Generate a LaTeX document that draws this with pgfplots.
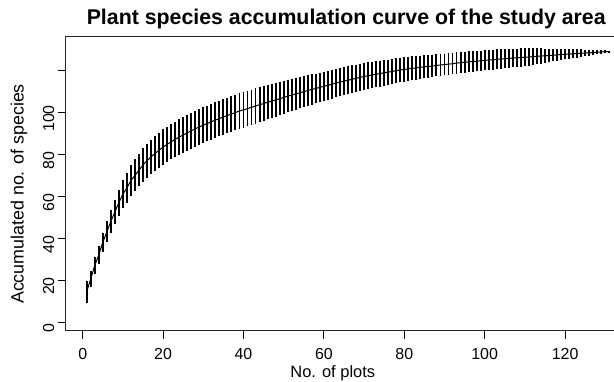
\documentclass[border=0pt]{standalone}
\usepackage{fontspec}
\setmainfont{Liberation Sans}
\usepackage{pgfplots}
\usepackage{pgfplotstable}
\pgfplotsset{compat=1.18}
\pgfplotstableread{
x y e
1 14.5 5.3
2 20.5 4.0
3 27 4.2
4 32 4.4
5 38 4.6
6 43 5.0
7 48 5.4
8 52.5 5.8
9 57 6.2
10 61 6.6
11 64 7.0
12 67.5 7.3
13 70 7.6
14 72.5 7.8
15 75 8.0
16 77 8.1
17 78.8 8.2
18 80.5 8.3
19 82 8.3
20 83.5 8.4
21 84.8 8.4
22 86 8.4
23 87.2 8.4
24 88.3 8.5
25 89.3 8.5
26 90.3 8.5
27 91.3 8.5
28 92.2 8.5
29 93.1 8.5
30 94 8.5
31 94.8 8.5
32 95.6 8.5
33 96.4 8.5
34 97.1 8.5
35 97.9 8.5
36 98.6 8.5
37 99.3 8.5
38 100 8.5
39 100.7 8.5
40 101.3 8.5
41 101.9 8.4
42 102.5 8.4
43 103.1 8.4
44 103.7 8.3
45 104.3 8.3
46 104.9 8.2
47 105.5 8.1
48 106 8.0
49 106.6 7.9
50 107.2 7.8
51 107.8 7.7
52 108.3 7.6
53 108.9 7.5
54 109.4 7.4
55 110 7.3
56 110.5 7.2
57 111 7.2
58 111.5 7.1
59 112 7.1
60 112.5 7.0
61 113 6.9
62 113.5 6.9
63 114 6.8
64 114.5 6.8
65 115 6.7
66 115.4 6.6
67 115.9 6.6
68 116.3 6.5
69 116.8 6.5
70 117.2 6.4
71 117.6 6.3
72 117.9 6.3
73 118.3 6.2
74 118.6 6.2
75 119 6.1
76 119.3 6.0
77 119.6 6.0
78 120 5.9
79 120.3 5.9
80 120.6 5.8
81 120.8 5.7
82 121.1 5.7
83 121.3 5.6
84 121.6 5.6
85 121.8 5.5
86 122 5.4
87 122.2 5.4
88 122.5 5.3
89 122.7 5.3
90 122.9 5.2
91 123.1 5.2
92 123.3 5.1
93 123.6 5.1
94 123.8 5.0
95 124 5.0
96 124.2 5.0
97 124.4 4.9
98 124.5 4.9
99 124.7 4.8
100 124.9 4.8
101 125.1 4.8
102 125.2 4.7
103 125.4 4.7
104 125.5 4.6
105 125.7 4.6
106 125.8 4.5
107 126 4.5
108 126.1 4.4
109 126.3 4.4
110 126.4 4.3
111 126.5 4.1
112 126.7 4.0
113 126.8 3.8
114 127 3.6
115 127.1 3.4
116 127.2 3.2
117 127.4 3.0
118 127.5 2.8
119 127.7 2.6
120 127.8 2.4
121 127.9 2.3
122 128 2.1
123 128.2 2.0
124 128.3 1.8
125 128.4 1.6
126 128.5 1.4
127 128.6 1.2
128 128.8 1.0
129 128.9 0.9
130 129 0.7
131 129.1 0.5
}\spdata
\begin{document}
\begin{tikzpicture}
\path[use as bounding box] (0bp,0bp) rectangle (614bp,382bp);
\clip (0bp,0bp) rectangle (614bp,382bp);
\begin{axis}[
  at={(65.8bp,51.3bp)}, anchor=south west,
  scale only axis, width=564.4bp, height=294bp,
  xmin=-4.2, xmax=136.2, ymin=-4.15, ymax=136.2,
  axis line style={draw=none},
  tick align=outside, major tick length=8bp,
  xtick pos=bottom, ytick pos=left,
  tick style={black, line width=0.9bp},
  xtick={0,20,40,60,80,100,120},
  ytick={0,20,40,60,80,100,120},
  yticklabels={0,20,40,60,80,100,},
  /pgf/number format/assume math mode=true,
  ticklabel style={font=\fontsize{16}{18}\selectfont},
  xticklabel style={anchor=north, yshift=-6bp},
  yticklabel style={rotate=90, anchor=south, xshift=-6bp},
  title={\textbf{Plant species accumulation curve of the study area}},
  title style={font=\fontsize{21.4}{24}\selectfont, at={(axis description cs:0.497,1.0228)}, anchor=base, inner sep=0pt},
  xlabel={No. of plots},
  xlabel style={font=\fontsize{16.5}{18}\selectfont, at={(axis description cs:0.473,-0.159)}, anchor=base, inner sep=0pt},
  ylabel={Accumulated no. of species},
  ylabel style={font=\fontsize{17.9}{20}\selectfont, at={(axis description cs:-0.083,0.465)}, anchor=center, inner sep=0pt},
  clip=false,
]
\addplot[black, line width=1bp, no markers,
  error bars/.cd, y dir=both, y explicit,
  error mark=none, error bar style={line width=1.9bp, black}]
  table[x=x, y=y, y error=e] {\spdata};
\draw[black!85, line width=1bp] (rel axis cs:1,1) -- (rel axis cs:0,1) -- (rel axis cs:0,0) -- (rel axis cs:1,0);
\end{axis}
\end{tikzpicture}
\end{document}
